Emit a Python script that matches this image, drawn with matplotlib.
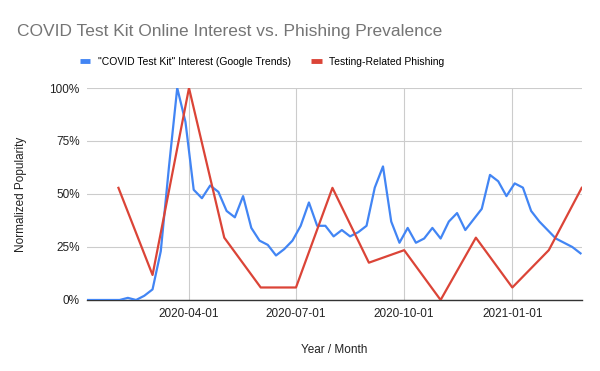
import numpy as np
import matplotlib
matplotlib.use("Agg")
import matplotlib.pyplot as plt
import matplotlib.dates as mdates
from matplotlib.ticker import FuncFormatter

plt.rcParams['font.family'] = ['Liberation Sans', 'DejaVu Sans']

# weekly Google Trends interest, weeks starting 2020-01-05
trend_start = np.datetime64('2020-01-05')
trend_values = [0, 0, 0, 0, 0, 1, 0, 2, 5, 23,
                63, 100, 84, 52, 48, 54, 51, 42, 39, 49,
                34, 28, 26, 21, 24, 28, 35, 46, 35, 35,
                30, 33, 30, 32, 35, 53, 63, 37, 27, 34,
                27, 29, 34, 29, 37, 41, 33, 38, 43, 59,
                56, 49, 55, 53, 42, 37, 33, 29, 27, 25, 22]

# monthly phishing counts (normalized)
phish_months = ['2020-02', '2020-03', '2020-04', '2020-05', '2020-06', '2020-07', '2020-08',
                '2020-09', '2020-10', '2020-11', '2020-12', '2021-01', '2021-02', '2021-03']
phish_values = [52.9, 11.8, 100, 29.4, 5.9, 5.9, 52.9, 17.6, 23.5, 0, 29.4, 5.9, 23.5, 52.9]

tick_dates = ['2020-04-01', '2020-07-01', '2020-10-01', '2021-01-01']

trend_dates = trend_start + np.arange(len(trend_values)) * np.timedelta64(7, 'D')
phish_dates = np.array([np.datetime64(m + '-01') for m in phish_months])

fig = plt.figure(figsize=(6, 3.71), dpi=100)
ax = fig.add_axes([0.1445, 0.1914, 0.825, 0.5714])

blue = '#4285F4'
red = '#DB4437'
ax.plot(trend_dates.astype('datetime64[D]').astype(object), trend_values, color=blue, lw=1.6,
        label='"COVID Test Kit" Interest (Google Trends)', solid_joinstyle='round', zorder=3)
ax.plot(phish_dates.astype(object), phish_values, color=red, lw=1.6,
        label='Testing-Related Phishing', solid_joinstyle='round', zorder=3)

ax.set_xlim(np.datetime64('2020-01-05').astype(object), np.datetime64('2021-03-01').astype(object))
ax.set_ylim(0, 100)
ax.set_yticks([0, 25, 50, 75, 100])
ax.yaxis.set_major_formatter(FuncFormatter(lambda v, p: '%d%%' % v))
ax.set_xticks([np.datetime64(d).astype(object) for d in tick_dates])
ax.xaxis.set_major_formatter(mdates.DateFormatter('%Y-%m-%d'))

ax.grid(True, color='#cccccc', lw=0.8)
ax.set_axisbelow(True)
for s in ['top', 'right', 'left']:
    ax.spines[s].set_visible(False)
ax.spines['bottom'].set_color('#333333')
ax.spines['bottom'].set_linewidth(1.0)
ax.tick_params(length=0, labelsize=8.5, colors='#222222', pad=6)
ax.tick_params(axis='y', pad=5)

ax.set_xlabel('Year / Month', fontsize=8.5, color='#222222', labelpad=17)
ax.set_ylabel('Normalized Popularity', fontsize=8.5, color='#222222', labelpad=16)

fig.text(0.028, 0.915, 'COVID Test Kit Online Interest vs. Phishing Prevalence',
         fontsize=12.5, color='#757575', va='center', ha='left')

leg = fig.legend(loc='center', bbox_to_anchor=(0.437, 0.833), ncol=2, frameon=False,
                 fontsize=7.5, handlelength=1.0, handletextpad=0.7, columnspacing=2.0)
for h in leg.get_lines():
    h.set_linewidth(3.5)
    h.set_solid_capstyle('butt')

fig.savefig('out.png', dpi=100)
